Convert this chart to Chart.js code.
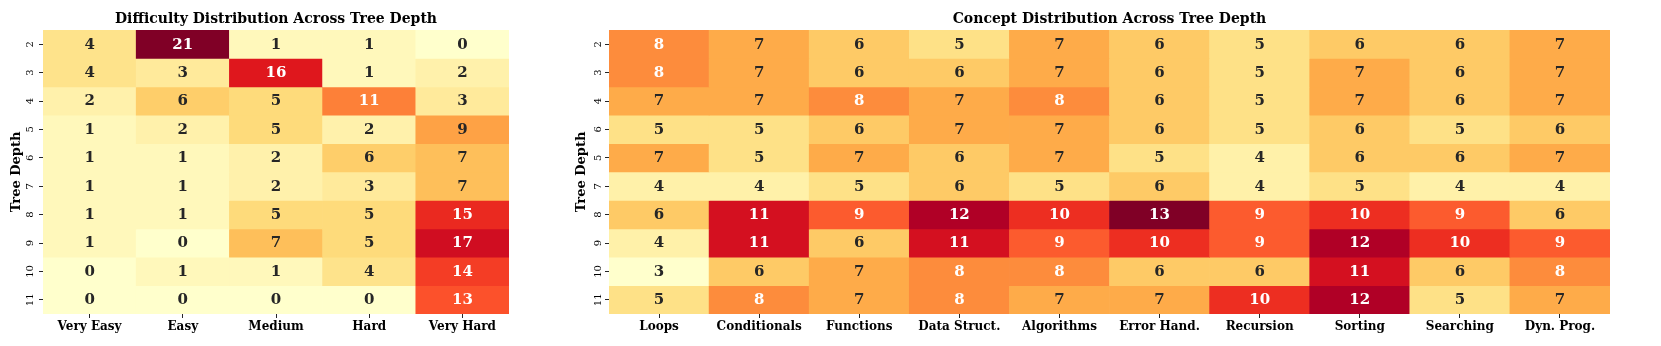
<!DOCTYPE html>
<html>
<head>
<meta charset="utf-8">
<script src="https://cdn.jsdelivr.net/npm/chart.js@4.4.0/dist/chart.umd.min.js"></script>
<style>
  body { margin: 0; background: #fff; width: 1661px; height: 346px; position: relative; overflow: hidden; }
  canvas { position: absolute; top: 0; }
  #leftChart { left: 0; }
  #rightChart { left: 560px; }
</style>
</head>
<body>
<canvas id="leftChart" width="545" height="346"></canvas>
<canvas id="rightChart" width="1101" height="346"></canvas>
<script>
// Difficulty heatmap
const depthLabels = ['2', '3', '4', '5', '6', '7', '8', '9', '10', '11'];
const difficultyLabels = ['Very Easy', 'Easy', 'Medium', 'Hard', 'Very Hard'];
const difficultyCounts = [
  [4, 21, 1, 1, 0],
  [4, 3, 16, 1, 2],
  [2, 6, 5, 11, 3],
  [1, 2, 5, 2, 9],
  [1, 1, 2, 6, 7],
  [1, 1, 2, 3, 7],
  [1, 1, 5, 5, 15],
  [1, 0, 7, 5, 17],
  [0, 1, 1, 4, 14],
  [0, 0, 0, 0, 13]
];

// Concept heatmap (row order as in the original figure)
const conceptDepthLabels = ['2', '3', '4', '6', '5', '7', '8', '9', '10', '11'];
const conceptLabels = ['Loops', 'Conditionals', 'Functions', 'Data Struct.', 'Algorithms',
  'Error Hand.', 'Recursion', 'Sorting', 'Searching', 'Dyn. Prog.'];
const conceptCounts = [
  [8, 7, 6, 5, 7, 6, 5, 6, 6, 7],
  [8, 7, 6, 6, 7, 6, 5, 7, 6, 7],
  [7, 7, 8, 7, 8, 6, 5, 7, 6, 7],
  [5, 5, 6, 7, 7, 6, 5, 6, 5, 6],
  [7, 5, 7, 6, 7, 5, 4, 6, 6, 7],
  [4, 4, 5, 6, 5, 6, 4, 5, 4, 4],
  [6, 11, 9, 12, 10, 13, 9, 10, 9, 6],
  [4, 11, 6, 11, 9, 10, 9, 12, 10, 9],
  [3, 6, 7, 8, 8, 6, 6, 11, 6, 8],
  [5, 8, 7, 8, 7, 7, 10, 12, 5, 7]
];

const FONT = "'DejaVu Serif', 'Liberation Serif', serif";

// YlOrRd colormap (matplotlib, 256 levels)
const ylOrRd = ['#ffffcc', '#ffeda0', '#fed976', '#feb24c', '#fd8d3c', '#fc4e2a', '#e31a1c', '#bd0026', '#800026']
  .map(h => [parseInt(h.slice(1, 3), 16), parseInt(h.slice(3, 5), 16), parseInt(h.slice(5, 7), 16)]);

function cmap(t) {
  let idx = Math.min(255, Math.floor(t * 256));
  let x = idx / 255 * (ylOrRd.length - 1);
  let i = Math.min(ylOrRd.length - 2, Math.floor(x));
  let f = x - i;
  return ylOrRd[i].map((c, k) => Math.round(c + (ylOrRd[i + 1][k] - c) * f));
}

function luminance(rgb) {
  const lin = rgb.map(c => {
    c = c / 255;
    return c <= 0.03928 ? c / 12.92 : Math.pow((c + 0.055) / 1.055, 2.4);
  });
  return 0.2126 * lin[0] + 0.7152 * lin[1] + 0.0722 * lin[2];
}

// Draw the count inside each cell
const annotatePlugin = {
  id: 'annotate',
  afterDatasetsDraw(chart) {
    const ctx = chart.ctx;
    ctx.save();
    ctx.font = 'bold 15px ' + FONT;
    ctx.textAlign = 'center';
    ctx.textBaseline = 'middle';
    chart.data.datasets.forEach((ds, di) => {
      chart.getDatasetMeta(di).data.forEach((bar, ci) => {
        const rgb = ds.cellRgb[ci];
        ctx.fillStyle = luminance(rgb) > 0.408 ? '#262626' : '#ffffff';
        ctx.fillText(String(ds.counts[ci]), bar.x, (bar.y + bar.base) / 2 + 0.5);
      });
    });
    ctx.restore();
  }
};

function createHeatmap(canvasId, title, rowLabels, colLabels, counts, cfg) {
  const flat = counts.flat();
  const vmin = Math.min(...flat);
  const vmax = Math.max(...flat);

  const datasets = counts.map((row, r) => {
    const rgb = row.map(v => cmap((v - vmin) / (vmax - vmin)));
    return {
      data: row.map(() => [r, r + 1]),
      counts: row,
      cellRgb: rgb,
      backgroundColor: rgb.map(c => `rgb(${c[0]},${c[1]},${c[2]})`),
      borderWidth: 0,
      grouped: false,
      barPercentage: 1,
      categoryPercentage: 1
    };
  });

  const ctx = document.getElementById(canvasId).getContext('2d');
  return new Chart(ctx, {
    type: 'bar',
    data: { labels: colLabels, datasets: datasets },
    options: {
      responsive: false,
      animation: false,
      layout: { padding: { left: 0, right: cfg.padRight, top: 0, bottom: 0 } },
      plugins: {
        legend: { display: false },
        tooltip: { enabled: false },
        title: {
          display: true,
          text: title,
          fullSize: false,
          color: '#000',
          font: { family: FONT, size: 14, weight: 'bold', lineHeight: 1.2 },
          padding: { top: 10.5, bottom: 2.7 }
        }
      },
      scales: {
        x: {
          type: 'category',
          offset: true,
          grid: { display: true, offset: false, drawOnChartArea: false, drawTicks: true, tickLength: 4, color: '#262626' },
          border: { display: false },
          ticks: { color: '#000', padding: 2, maxRotation: 0, autoSkip: false, font: { family: FONT, size: 12, weight: 'bold' } },
          afterFit: s => { s.height = 32; }
        },
        y: {
          type: 'linear',
          display: false,
          reverse: true,
          min: 0,
          max: rowLabels.length
        },
        yl: {
          type: 'category',
          labels: rowLabels,
          position: 'left',
          offset: true,
          grid: { display: true, offset: false, drawOnChartArea: false, drawTicks: true, tickLength: 4, color: '#262626' },
          border: { display: false },
          ticks: { color: '#000', padding: cfg.tickPad, minRotation: 90, maxRotation: 90, crossAlign: 'center', autoSkip: false, font: { family: FONT, size: 10 } },
          title: {
            display: true,
            text: 'Tree Depth',
            color: '#000',
            font: { family: FONT, size: 13, weight: 'bold', lineHeight: 1.2 },
            padding: { top: cfg.titlePad, bottom: 0 }
          },
          afterFit: s => { s.width = cfg.axisWidth; }
        }
      }
    },
    plugins: [annotatePlugin]
  });
}

createHeatmap('leftChart', 'Difficulty Distribution Across Tree Depth', depthLabels, difficultyLabels, difficultyCounts,
  { padRight: 36, axisWidth: 43, tickPad: 2.5, titlePad: 9 });
createHeatmap('rightChart', 'Concept Distribution Across Tree Depth', conceptDepthLabels, conceptLabels, conceptCounts,
  { padRight: 51, axisWidth: 49, tickPad: 0, titlePad: 14 });
</script>
</body>
</html>
